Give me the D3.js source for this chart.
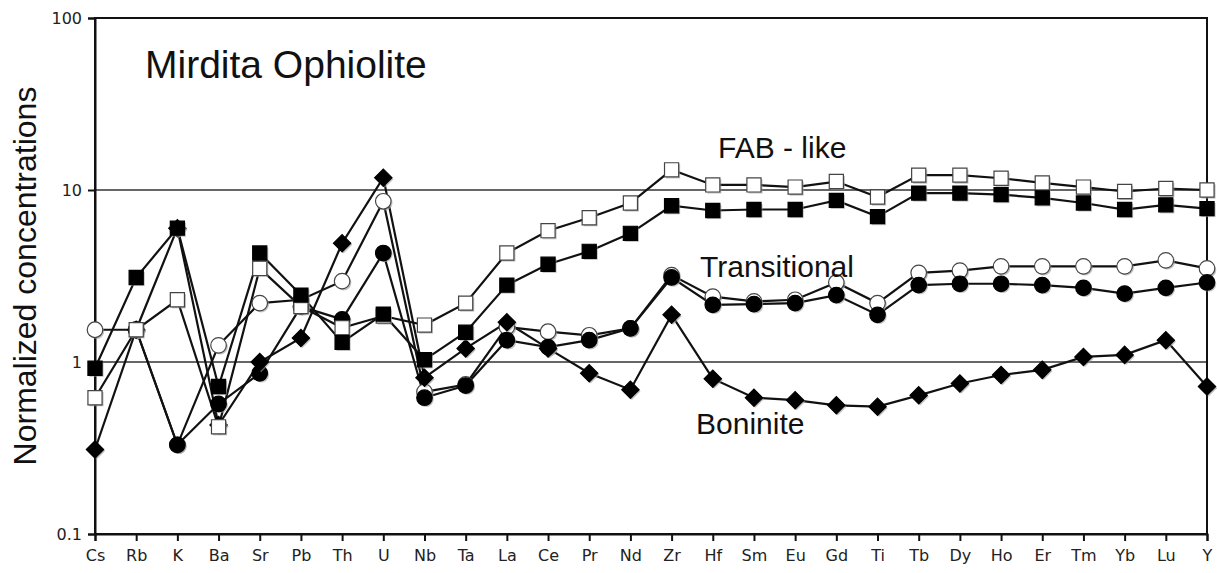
<!DOCTYPE html>
<html><head><meta charset="utf-8">
<script src="https://cdn.jsdelivr.net/npm/d3@7"></script>
<style>body{margin:0;background:#fff}</style></head>
<body><svg id="c" width="1217" height="573"></svg>
<script>
const elements = ["Cs","Rb","K","Ba","Sr","Pb","Th","U","Nb","Ta","La","Ce","Pr","Nd","Zr","Hf","Sm","Eu","Gd","Ti","Tb","Dy","Ho","Er","Tm","Yb","Lu","Y"];
const fabOpen =   [0.62,1.54,2.3,0.42,3.5,2.1,1.58,1.85,1.64,2.2,4.3,5.8,6.9,8.4,13.1,10.7,10.7,10.4,11.2,9.1,12.2,12.2,11.7,11.0,10.4,9.8,10.2,10.0];
const fabFilled = [0.92,3.1,6.0,0.72,4.3,2.45,1.3,1.9,1.03,1.49,2.8,3.7,4.4,5.6,8.1,7.6,7.7,7.7,8.7,7.0,9.6,9.6,9.4,9.0,8.4,7.7,8.2,7.8];
const transOpen = [1.54,1.54,0.33,1.25,2.2,2.3,2.95,8.6,0.67,0.74,1.6,1.5,1.43,1.57,3.2,2.4,2.25,2.3,2.9,2.2,3.3,3.4,3.6,3.6,3.6,3.6,3.9,3.5];
const transFilled=[null,1.54,0.33,0.57,0.86,2.1,1.77,4.3,0.62,0.73,1.34,1.22,1.34,1.57,3.1,2.15,2.17,2.2,2.45,1.88,2.8,2.85,2.85,2.8,2.7,2.5,2.7,2.9];
const boninite =  [0.31,1.54,6.0,0.43,1.0,1.38,4.9,11.8,0.81,1.2,1.7,1.2,0.86,0.69,1.88,0.8,0.62,0.6,0.56,0.55,0.64,0.75,0.84,0.9,1.07,1.1,1.34,0.72];
const yTicks = [0.1,1,10,100];
const yTickLabels = ["0.1","1","10","100"];

const series = [
 {v:transOpen, shape:"circle", fill:"#fff"},
 {v:transFilled, shape:"circle", fill:"#000"},
 {v:boninite, shape:"diamond", fill:"#000"},
 {v:fabOpen, shape:"square", fill:"#fff"},
 {v:fabFilled, shape:"square", fill:"#000"}
];

const svg = d3.select("#c");
const x = d3.scalePoint().domain(elements).range([95,1207]);
const y = d3.scaleLog().domain([0.1,100]).range([534,18]);

svg.append("g").selectAll("line").data([1,10]).join("line")
 .attr("x1",95).attr("x2",1207).attr("y1",d=>y(d)).attr("y2",d=>y(d))
 .attr("stroke","#333").attr("stroke-width",1.5);
svg.append("rect").attr("x",95).attr("y",18).attr("width",1112).attr("height",516)
 .attr("fill","none").attr("stroke","#111").attr("stroke-width",2);

const xAx = svg.append("g").attr("transform","translate(0,534)")
 .call(d3.axisBottom(x).tickSize(7).tickPadding(9));
const yAx = svg.append("g").attr("transform","translate(95,0)")
 .call(d3.axisLeft(y).tickValues(yTicks).tickFormat((d,i)=>yTickLabels[i]).tickSize(7).tickPadding(6));
[xAx,yAx].forEach(a=>{a.select(".domain").attr("stroke","#111").attr("stroke-width",2);
 a.selectAll(".tick line").attr("stroke","#111").attr("stroke-width",2);
 a.selectAll("text").attr("font-family","DejaVu Sans, Verdana").attr("font-size",16).attr("fill","#222");});

const line = d3.line().defined(d=>d!=null).x((d,i)=>x(elements[i])).y(d=>y(d));
const sym = {circle:d3.symbolCircle, square:d3.symbolSquare, diamond:d3.symbolSquare};
const size = {circle:190, square:200, diamond:150};
series.forEach(s=>{
 svg.append("path").attr("d",line(s.v)).attr("fill","none").attr("stroke","#111").attr("stroke-width",2.2);
});
series.forEach(s=>{
 const g = svg.append("g");
 const data = s.v.map((d,i)=>({d,i})).filter(o=>o.d!=null);
 const rot = s.shape==="diamond" ? " rotate(45)" : "";
 g.selectAll("path.sh").data(data).join("path")
  .attr("d",d3.symbol().type(sym[s.shape]).size(size[s.shape]))
  .attr("transform",o=>`translate(${x(elements[o.i])+1.5},${y(o.d)+1.5})${rot}`)
  .attr("fill","#999").attr("opacity",0.6);
 g.selectAll("path.m").data(data).join("path")
  .attr("d",d3.symbol().type(sym[s.shape]).size(size[s.shape]))
  .attr("transform",o=>`translate(${x(elements[o.i])},${y(o.d)})${rot}`)
  .attr("fill",s.fill).attr("stroke",s.fill==="#fff"?"#444":"#000").attr("stroke-width",1.2);
});

const T = (t,xx,yy,fs)=>svg.append("text").text(t).attr("x",xx).attr("y",yy)
 .attr("font-family","Liberation Sans, Arial").attr("font-size",fs).attr("fill","#111");
T("Mirdita Ophiolite",145,78,39);
T("FAB - like",718,158,30);
T("Transitional",700,277,30);
T("Boninite",696,434,30);
svg.append("text").text("Normalized concentrations")
 .attr("transform","translate(36,276) rotate(-90)").attr("text-anchor","middle")
 .attr("font-family","Liberation Sans, Arial").attr("font-size",32).attr("fill","#111");
</script></body></html>
